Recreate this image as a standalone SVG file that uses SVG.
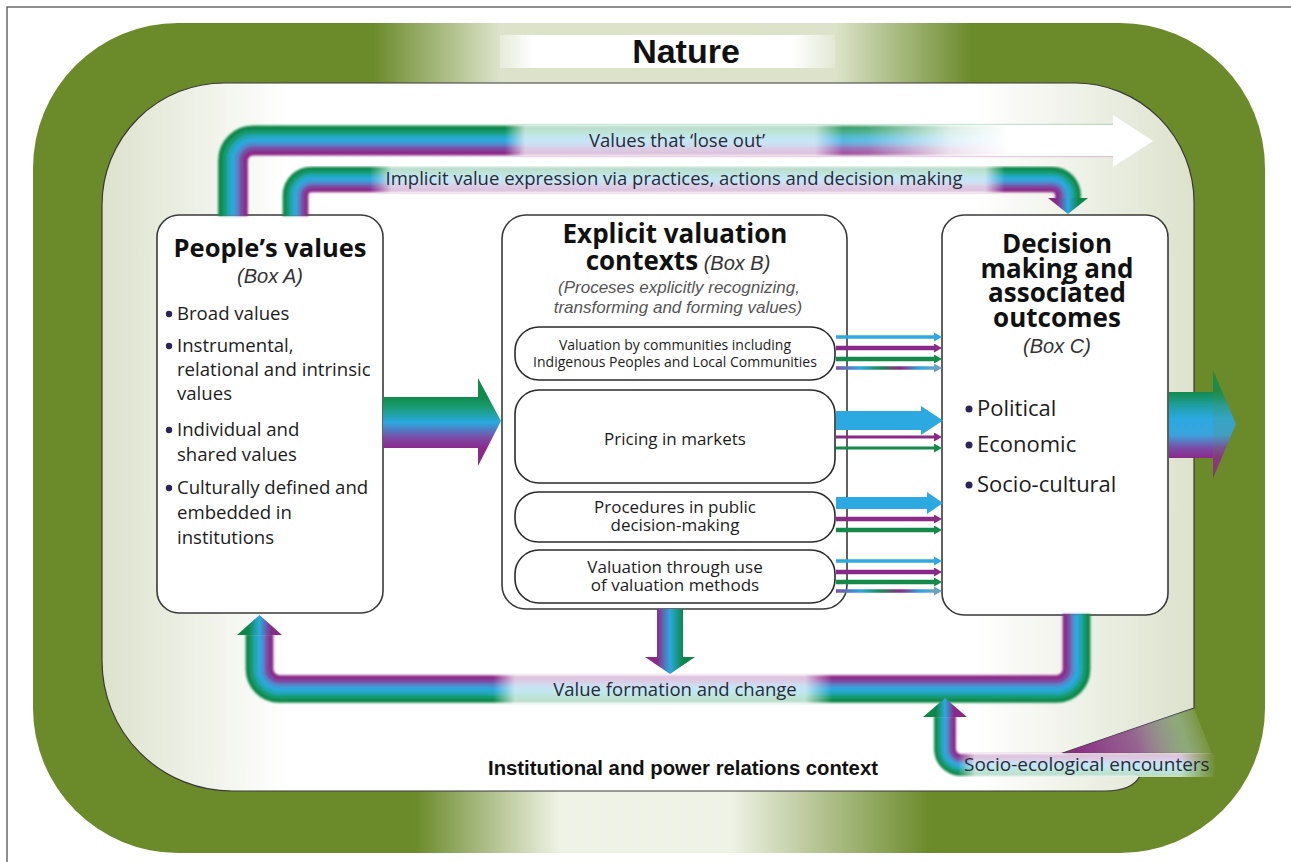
<svg xmlns="http://www.w3.org/2000/svg" width="1291" height="862" viewBox="0 0 1291 862">
<defs>
<style>
.box{fill:#fff;stroke:#3a3a3a;stroke-width:1.6}
.sub{fill:#fff;stroke:#2a2a2a;stroke-width:1.6}
.os{font-family:'Open Sans','Noto Sans','DejaVu Sans',sans-serif;fill:#1c1c1c}
.ttl{font-family:'Open Sans','Noto Sans','DejaVu Sans',sans-serif;font-weight:700;fill:#111}
.it{font-family:'Liberation Sans',Arial,sans-serif;font-style:italic;fill:#333}
.ar{font-family:'Liberation Sans',Arial,sans-serif;font-weight:700;fill:#111}
.lbl{font-family:'Open Sans','Noto Sans','DejaVu Sans',sans-serif;fill:#2a2a35;font-size:18.5px}
.dot{fill:#2b2458}
.lane{fill:none}
.soft{filter:url(#blur)}
.c0{stroke:#0d8748}.c1{stroke:#139a6c}.c2{stroke:#22a6b4}.c3{stroke:#2ba9df}.c4{stroke:#4d8bcc}.c5{stroke:#7a4ea6}.c6{stroke:#8a2a88}
.tb{stroke:#2ba9e0}.tp{stroke:#8a2a88}.tg{stroke:#13894a}
</style>
<filter id="blur" x="-5%" y="-5%" width="110%" height="110%"><feGaussianBlur stdDeviation="0.9"/></filter>
<linearGradient id="gInner" x1="0" y1="0" x2="1" y2="0">
<stop offset="0" stop-color="#dce2cd"/><stop offset="0.17" stop-color="#ffffff"/><stop offset="0.8" stop-color="#ffffff"/><stop offset="1" stop-color="#dce2cd"/>
</linearGradient>
<linearGradient id="gTopFade" gradientUnits="userSpaceOnUse" x1="300" y1="0" x2="1000" y2="0">
<stop offset="0.104" stop-color="#f0f3e6" stop-opacity="0"/><stop offset="0.286" stop-color="#f0f3e6" stop-opacity="0.85"/><stop offset="0.764" stop-color="#f0f3e6" stop-opacity="0.85"/><stop offset="0.96" stop-color="#f0f3e6" stop-opacity="0"/>
</linearGradient>
<linearGradient id="gBotFade" gradientUnits="userSpaceOnUse" x1="380" y1="0" x2="980" y2="0">
<stop offset="0.058" stop-color="#f6f8f0" stop-opacity="0"/><stop offset="0.3" stop-color="#f6f8f0" stop-opacity="0.95"/><stop offset="0.583" stop-color="#f6f8f0" stop-opacity="0.95"/><stop offset="0.917" stop-color="#f6f8f0" stop-opacity="0"/>
</linearGradient>
<linearGradient id="gNature" x1="0" y1="0" x2="1" y2="0">
<stop offset="0" stop-color="#fff" stop-opacity="0.3"/><stop offset="0.1" stop-color="#fff"/><stop offset="0.87" stop-color="#fff"/><stop offset="1" stop-color="#fff" stop-opacity="0.2"/>
</linearGradient>
<linearGradient id="gP1" gradientUnits="userSpaceOnUse" x1="500" y1="0" x2="1116" y2="0">
<stop offset="0.008" stop-color="#fff" stop-opacity="0"/><stop offset="0.041" stop-color="#fff" stop-opacity="0.72"/><stop offset="0.511" stop-color="#fff" stop-opacity="0.72"/><stop offset="0.557" stop-color="#fff" stop-opacity="0.2"/><stop offset="0.597" stop-color="#fff" stop-opacity="0.25"/><stop offset="0.731" stop-color="#fff" stop-opacity="0.85"/><stop offset="0.828" stop-color="#fff" stop-opacity="1"/><stop offset="1" stop-color="#fff" stop-opacity="1"/>
</linearGradient>
<linearGradient id="gP2" gradientUnits="userSpaceOnUse" x1="370" y1="0" x2="1010" y2="0">
<stop offset="0" stop-color="#fff" stop-opacity="0"/><stop offset="0.034" stop-color="#fff" stop-opacity="0.72"/><stop offset="0.961" stop-color="#fff" stop-opacity="0.72"/><stop offset="0.992" stop-color="#fff" stop-opacity="0"/>
</linearGradient>
<linearGradient id="gP3" gradientUnits="userSpaceOnUse" x1="490" y1="0" x2="840" y2="0">
<stop offset="0.009" stop-color="#fff" stop-opacity="0"/><stop offset="0.071" stop-color="#fff" stop-opacity="0.72"/><stop offset="0.9" stop-color="#fff" stop-opacity="0.72"/><stop offset="0.977" stop-color="#fff" stop-opacity="0"/>
</linearGradient>
<linearGradient id="gP4" gradientUnits="userSpaceOnUse" x1="955" y1="0" x2="1217" y2="0">
<stop offset="0.011" stop-color="#fff" stop-opacity="0"/><stop offset="0.076" stop-color="#fff" stop-opacity="0.72"/><stop offset="1" stop-color="#fff" stop-opacity="0.72"/>
</linearGradient>
<linearGradient id="gM4" gradientUnits="userSpaceOnUse" x1="1180" y1="0" x2="1216" y2="0">
<stop offset="0" stop-color="#fff"/><stop offset="1" stop-color="#000"/>
</linearGradient>
<mask id="m4" maskUnits="userSpaceOnUse" x="900" y="680" width="340" height="110">
<rect x="900" y="680" width="340" height="110" fill="url(#gM4)"/>
</mask>
<linearGradient id="gWedge" gradientUnits="userSpaceOnUse" x1="1075" y1="753" x2="1205" y2="712">
<stop offset="0" stop-color="#8a2a88" stop-opacity="0.95"/><stop offset="0.45" stop-color="#a05aa8" stop-opacity="0.8"/><stop offset="0.8" stop-color="#b8d0d8" stop-opacity="0.45"/><stop offset="1" stop-color="#dfe6d8" stop-opacity="0"/>
</linearGradient>
<linearGradient id="gAB" gradientUnits="userSpaceOnUse" x1="0" y1="397" x2="0" y2="448">
<stop offset="0" stop-color="#128a4c"/><stop offset="0.18" stop-color="#179b6c"/><stop offset="0.5" stop-color="#2aa9e0"/><stop offset="0.8" stop-color="#7b4aa5"/><stop offset="1" stop-color="#8c2a8a"/>
</linearGradient>
<linearGradient id="gOut" gradientUnits="userSpaceOnUse" x1="0" y1="392" x2="0" y2="458">
<stop offset="0" stop-color="#128a4c"/><stop offset="0.2" stop-color="#1f9fa0"/><stop offset="0.4" stop-color="#2aa9e0"/><stop offset="0.65" stop-color="#3aa3dc"/><stop offset="0.85" stop-color="#7b4aa5"/><stop offset="1" stop-color="#8c2a8a"/>
</linearGradient>
<linearGradient id="gDownB" gradientUnits="userSpaceOnUse" x1="657" y1="0" x2="683" y2="0">
<stop offset="0" stop-color="#8a2a88"/><stop offset="0.5" stop-color="#2ba9df"/><stop offset="1" stop-color="#0d8748"/>
</linearGradient>
<linearGradient id="gImpHead" gradientUnits="userSpaceOnUse" x1="1057" y1="0" x2="1079" y2="0">
<stop offset="0" stop-color="#8a2a88"/><stop offset="0.5" stop-color="#2ba9df"/><stop offset="1" stop-color="#0d8748"/>
</linearGradient>
<linearGradient id="gUpA" gradientUnits="userSpaceOnUse" x1="248" y1="0" x2="271" y2="0">
<stop offset="0" stop-color="#0d8748"/><stop offset="0.5" stop-color="#2ba9df"/><stop offset="1" stop-color="#8a2a88"/>
</linearGradient>
<linearGradient id="gUpS" gradientUnits="userSpaceOnUse" x1="936" y1="0" x2="954" y2="0">
<stop offset="0" stop-color="#0d8748"/><stop offset="0.5" stop-color="#2ba9df"/><stop offset="1" stop-color="#8a2a88"/>
</linearGradient>
<linearGradient id="gMix" gradientUnits="userSpaceOnUse" x1="836" y1="0" x2="935" y2="0">
<stop offset="0" stop-color="#7a4fa8"/><stop offset="0.25" stop-color="#2aa9e0"/><stop offset="0.45" stop-color="#1a8a50"/><stop offset="0.65" stop-color="#8a2a8a"/><stop offset="0.85" stop-color="#2aa9e0"/><stop offset="1" stop-color="#6aa3bf"/>
</linearGradient>
<marker id="mb" markerUnits="userSpaceOnUse" viewBox="0 0 8 9" markerWidth="8" markerHeight="9" refX="1" refY="4.5" orient="auto"><path d="M0 0L8 4.5L0 9Z" fill="#2ba9e0"/></marker>
<marker id="mp" markerUnits="userSpaceOnUse" viewBox="0 0 8 9" markerWidth="8" markerHeight="9" refX="1" refY="4.5" orient="auto"><path d="M0 0L8 4.5L0 9Z" fill="#8a2a88"/></marker>
<marker id="mg" markerUnits="userSpaceOnUse" viewBox="0 0 8 9" markerWidth="8" markerHeight="9" refX="1" refY="4.5" orient="auto"><path d="M0 0L8 4.5L0 9Z" fill="#13894a"/></marker>
<marker id="mx" markerUnits="userSpaceOnUse" viewBox="0 0 8 9" markerWidth="8" markerHeight="9" refX="1" refY="4.5" orient="auto"><path d="M0 0L8 4.5L0 9Z" fill="#6aa3bf"/></marker>
</defs>

<rect x="0" y="0" width="1291" height="862" fill="#fff"/>
<rect x="7" y="7" width="1300" height="900" fill="none" stroke="#444" stroke-width="1.2"/>

<g id="nature">
<rect x="33" y="23" width="1232" height="830" rx="145" fill="#6b8a2a"/>
<rect x="300" y="23" width="700" height="62" fill="url(#gTopFade)"/>
<rect x="380" y="791" width="600" height="62" fill="url(#gBotFade)"/>
<rect x="500" y="35" width="335" height="33" fill="url(#gNature)"/>
<text class="ar" x="686" y="63" text-anchor="middle" font-size="34">Nature</text>
</g>

<g id="context">
<path d="M224 83H1075A119 119 0 0 1 1194 202V708L1063 753L1140 776Q1132 791 1105 791H232A130 130 0 0 1 102 661V205A122 122 0 0 1 224 83Z" fill="url(#gInner)" stroke="#3a3a3a" stroke-width="1.2"/>
<polygon points="1063,753 1194,708 1212,754" fill="url(#gWedge)"/>
<text class="ar" x="683" y="775" text-anchor="middle" font-size="20.3">Institutional and power relations context</text>
</g>

<g id="boxA">
<rect class="box" x="157" y="215" width="226" height="398" rx="22"/>
<text class="ttl" x="270" y="257" text-anchor="middle" font-size="25.5">People’s values</text>
<text class="it" x="270" y="283" text-anchor="middle" font-size="20">(Box A)</text>
<g class="os" font-size="18.6">
<circle class="dot" cx="169" cy="314" r="3.2"/>
<text x="177" y="320">Broad values</text>
<circle class="dot" cx="169" cy="346" r="3.2"/>
<text x="177" y="352">Instrumental,</text>
<text x="177" y="376">relational and intrinsic</text>
<text x="177" y="400">values</text>
<circle class="dot" cx="169" cy="430" r="3.2"/>
<text x="177" y="436">Individual  and</text>
<text x="177" y="461">shared values</text>
<circle class="dot" cx="169" cy="488" r="3.2"/>
<text x="177" y="494">Culturally defined and</text>
<text x="177" y="519">embedded in</text>
<text x="177" y="544">institutions</text>
</g>
</g>

<g id="boxB">
<rect class="box" x="502" y="215" width="345" height="394" rx="24"/>
<text class="ttl" x="675" y="243" text-anchor="middle" font-size="26">Explicit valuation</text>
<text x="678" y="270" text-anchor="middle"><tspan class="ttl" font-size="26">contexts</tspan><tspan class="it" font-size="20"> (Box B)</tspan></text>
<text class="it" x="679" y="293" text-anchor="middle" font-size="17" style="fill:#555">(Proceses explicitly recognizing,</text>
<text class="it" x="678" y="313" text-anchor="middle" font-size="17" style="fill:#555">transforming and forming values)</text>
<g id="subB1">
<rect class="sub" x="515" y="327" width="320" height="53" rx="24"/>
<text class="os" x="675" y="350" text-anchor="middle" font-size="14">Valuation by communities including</text>
<text class="os" x="675" y="367" text-anchor="middle" font-size="14">Indigenous Peoples and Local Communities</text>
</g>
<g id="subB2">
<rect class="sub" x="515" y="390" width="320" height="93" rx="24"/>
<text class="os" x="675" y="445" text-anchor="middle" font-size="17">Pricing in markets</text>
</g>
<g id="subB3">
<rect class="sub" x="515" y="492" width="320" height="50" rx="23"/>
<text class="os" x="675" y="513" text-anchor="middle" font-size="17">Procedures in public</text>
<text class="os" x="675" y="531" text-anchor="middle" font-size="17">decision-making</text>
</g>
<g id="subB4">
<rect class="sub" x="515" y="550" width="320" height="53" rx="24"/>
<text class="os" x="675" y="573" text-anchor="middle" font-size="17">Valuation through use</text>
<text class="os" x="675" y="591" text-anchor="middle" font-size="17">of valuation methods</text>
</g>
</g>

<g id="boxC">
<rect class="box" x="942" y="215" width="226" height="400" rx="22"/>
<g class="ttl" font-size="26" text-anchor="middle">
<text x="1057" y="253">Decision</text>
<text x="1057" y="278">making and</text>
<text x="1057" y="302">associated</text>
<text x="1057" y="327">outcomes</text>
</g>
<text class="it" x="1057" y="353" text-anchor="middle" font-size="20">(Box C)</text>
<g class="os" font-size="22">
<circle class="dot" cx="969" cy="409" r="3.5"/>
<text x="977" y="416">Political</text>
<circle class="dot" cx="969" cy="445" r="3.5"/>
<text x="977" y="452">Economic</text>
<circle class="dot" cx="969" cy="485" r="3.5"/>
<text x="977" y="492">Socio-cultural</text>
</g>
</g>

<g id="connectors">
<path d="M383 397H478V378L501 421L478 466V448H383Z" fill="url(#gAB)"/>
<path d="M1169 392H1213V458H1169Z" fill="url(#gOut)"/>
<path d="M1213 370L1236 424L1213 478Z" fill="url(#gOut)" opacity="0.85"/>

<g stroke-width="4.9" class="soft">
<path class="lane c0" d="M220.57 216V160.5A32.43 32.43 0 0 1 253 128.07H1115"/>
<path class="lane c1" d="M224.71 216V160.5A28.29 28.29 0 0 1 253 132.21H1115"/>
<path class="lane c2" d="M228.86 216V160.5A24.14 24.14 0 0 1 253 136.36H1115"/>
<path class="lane c3" d="M233 216V160.5A20 20 0 0 1 253 140.5H1115"/>
<path class="lane c4" d="M237.14 216V160.5A15.86 15.86 0 0 1 253 144.64H1115"/>
<path class="lane c5" d="M241.29 216V160.5A11.71 11.71 0 0 1 253 148.79H1115"/>
<path class="lane c6" d="M245.43 216V160.5A7.57 7.57 0 0 1 253 152.93H1115"/>
</g>
<rect x="500" y="125" width="616" height="31" fill="url(#gP1)"/>
<polygon points="1113,115 1113,167 1153,141" fill="#fff"/>

<g stroke-width="4.3" class="soft">
<path class="lane c0" d="M284.79 216V195.5A26.71 26.71 0 0 1 311.5 168.79H1052A26.71 26.71 0 0 1 1078.71 195.5V200"/>
<path class="lane c1" d="M288.36 216V195.5A23.14 23.14 0 0 1 311.5 172.36H1052A23.14 23.14 0 0 1 1075.14 195.5V200"/>
<path class="lane c2" d="M291.93 216V195.5A19.57 19.57 0 0 1 311.5 175.93H1052A19.57 19.57 0 0 1 1071.57 195.5V200"/>
<path class="lane c3" d="M295.5 216V195.5A16 16 0 0 1 311.5 179.5H1052A16 16 0 0 1 1068 195.5V200"/>
<path class="lane c4" d="M299.07 216V195.5A12.43 12.43 0 0 1 311.5 183.07H1052A12.43 12.43 0 0 1 1064.43 195.5V200"/>
<path class="lane c5" d="M302.64 216V195.5A8.86 8.86 0 0 1 311.5 186.64H1052A8.86 8.86 0 0 1 1060.86 195.5V200"/>
<path class="lane c6" d="M306.21 216V195.5A5.29 5.29 0 0 1 311.5 190.21H1052A5.29 5.29 0 0 1 1057.29 195.5V200"/>
</g>
<rect x="370" y="166" width="640" height="27" fill="url(#gP2)"/>
<polygon points="1048,198 1088,198 1068,214" fill="url(#gImpHead)"/>

<g stroke-width="4.6" class="soft">
<path class="lane c0" d="M1088.07 614V669A31.57 31.57 0 0 1 1056.5 700.57H279.5A31.57 31.57 0 0 1 247.93 669V634"/>
<path class="lane c1" d="M1084.21 614V669A27.71 27.71 0 0 1 1056.5 696.71H279.5A27.71 27.71 0 0 1 251.79 669V634"/>
<path class="lane c2" d="M1080.36 614V669A23.86 23.86 0 0 1 1056.5 692.86H279.5A23.86 23.86 0 0 1 255.64 669V634"/>
<path class="lane c3" d="M1076.5 614V669A20 20 0 0 1 1056.5 689H279.5A20 20 0 0 1 259.5 669V634"/>
<path class="lane c4" d="M1072.64 614V669A16.14 16.14 0 0 1 1056.5 685.14H279.5A16.14 16.14 0 0 1 263.36 669V634"/>
<path class="lane c5" d="M1068.79 614V669A12.29 12.29 0 0 1 1056.5 681.29H279.5A12.29 12.29 0 0 1 267.21 669V634"/>
<path class="lane c6" d="M1064.93 614V669A8.43 8.43 0 0 1 1056.5 677.43H279.5A8.43 8.43 0 0 1 271.07 669V634"/>
</g>
<rect x="490" y="673.5" width="350" height="30.5" fill="url(#gP3)"/>
<polygon points="237,635 282,635 259.5,615" fill="url(#gUpA)"/>

<path d="M657 609H683V657H695L670 674L645 657H657Z" fill="url(#gDownB)"/>

<g mask="url(#m4)">
<g stroke-width="3.9" class="soft">
<path class="lane c0" d="M1216 774H961A25 25 0 0 1 936 749V716"/>
<path class="lane c1" d="M1216 771H961A22 22 0 0 1 939 749V716"/>
<path class="lane c2" d="M1216 768H961A19 19 0 0 1 942 749V716"/>
<path class="lane c3" d="M1216 765H961A16 16 0 0 1 945 749V716"/>
<path class="lane c4" d="M1216 762H961A13 13 0 0 1 948 749V716"/>
<path class="lane c5" d="M1216 759H961A10 10 0 0 1 951 749V716"/>
<path class="lane c6" d="M1216 756H961A7 7 0 0 1 954 749V716"/>
</g>
<rect x="955" y="753" width="262" height="24" fill="url(#gP4)"/>
</g>
<polygon points="923,717 967,717 945,698" fill="url(#gUpS)"/>

<line class="tb" x1="836" y1="337" x2="935" y2="337" stroke-width="3.5" marker-end="url(#mb)"/>
<line class="tp" x1="836" y1="348" x2="935" y2="348" stroke-width="4.5" marker-end="url(#mp)"/>
<line class="tg" x1="836" y1="359" x2="935" y2="359" stroke-width="4.5" marker-end="url(#mg)"/>
<line x1="836" y1="368" x2="935" y2="368" stroke="url(#gMix)" stroke-width="3.5" marker-end="url(#mx)"/>

<path d="M836 411H921V406L943 420.5L921 435V430H836Z" fill="#2ba9e0"/>
<line class="tp" x1="836" y1="437" x2="935" y2="437" stroke-width="3" marker-end="url(#mp)"/>
<line class="tg" x1="836" y1="448" x2="935" y2="448" stroke-width="3" marker-end="url(#mg)"/>

<path d="M836 497H927V492L943 503L927 514V509H836Z" fill="#2ba9e0"/>
<line class="tp" x1="836" y1="519" x2="935" y2="519" stroke-width="4.5" marker-end="url(#mp)"/>
<line class="tg" x1="836" y1="530" x2="935" y2="530" stroke-width="4.5" marker-end="url(#mg)"/>

<line class="tb" x1="836" y1="561" x2="935" y2="561" stroke-width="3.5" marker-end="url(#mb)"/>
<line class="tp" x1="836" y1="572" x2="935" y2="572" stroke-width="4.5" marker-end="url(#mp)"/>
<line class="tg" x1="836" y1="582" x2="935" y2="582" stroke-width="4.5" marker-end="url(#mg)"/>
<line x1="836" y1="591" x2="935" y2="591" stroke="url(#gMix)" stroke-width="3.5" marker-end="url(#mx)"/>
</g>

<g id="labels">
<text class="lbl" x="677" y="147" text-anchor="middle">Values that ‘lose out’</text>
<text class="lbl" x="674" y="185" text-anchor="middle">Implicit value expression via practices, actions and decision making</text>
<text class="lbl" x="675" y="696" text-anchor="middle">Value formation and change</text>
<text class="lbl" x="964" y="771" style="font-size:19px">Socio-ecological encounters</text>
</g>
</svg>
